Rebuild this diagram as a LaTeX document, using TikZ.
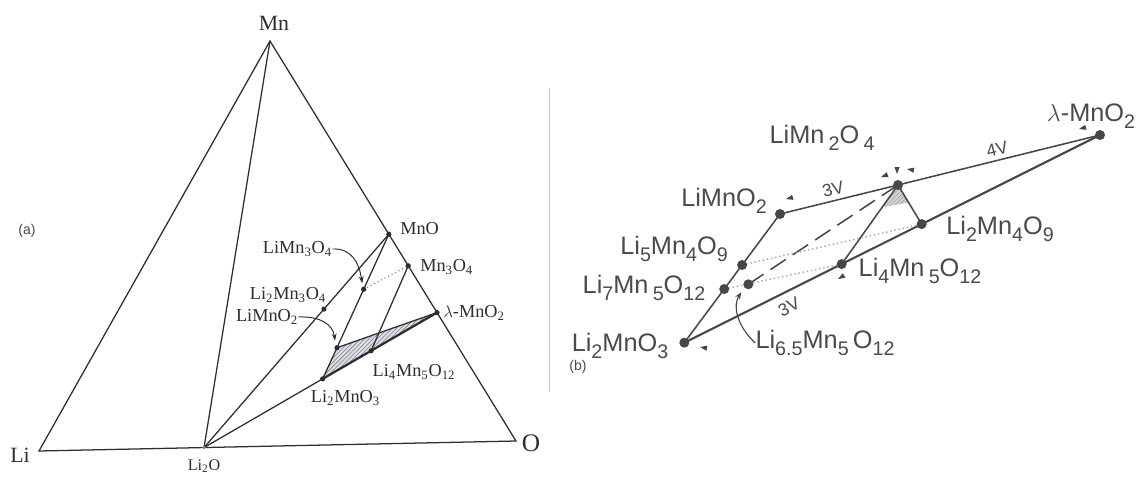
\documentclass[tikz,border=0pt]{standalone}
\usepackage{fontspec}
\setmainfont{Liberation Serif}
\setsansfont{Liberation Sans}
\usetikzlibrary{calc,patterns,arrows.meta}
\definecolor{lineA}{HTML}{2E2E2E}
\definecolor{lineB}{HTML}{474747}
\definecolor{txtB}{HTML}{4A4A4A}
\definecolor{hatchbg}{HTML}{DCDFEA}
\newcommand{\lo}[1]{\raisebox{-0.3em}{\fontsize{14}{14}\selectfont #1}}
\newcommand{\tsb}[1]{\textsubscript{#1}}
\begin{document}
\begin{tikzpicture}[x=0.025cm,y=-0.025cm,
  dotA/.style={circle,fill=lineA,inner sep=0pt,minimum size=0.13cm},
  dotB/.style={circle,fill=lineB,inner sep=0pt,minimum size=0.25cm},
  labA/.style={font=\fontsize{13}{13}\selectfont,text=lineA,inner sep=0pt},
  labV/.style={font=\fontsize{15.5}{15.5}\selectfont,text=lineA,inner sep=0pt},
  labB/.style={font=\sffamily\fontsize{18}{18}\selectfont,text=txtB,inner sep=0pt},
  labS/.style={font=\sffamily\fontsize{10}{10}\selectfont,text=txtB,inner sep=0pt},
  labVolt/.style={font=\sffamily\fontsize{12.5}{12.5}\selectfont,text=txtB,inner sep=0pt},
  lA/.style={draw=lineA,line width=0.9pt},
  lB/.style={draw=lineB,line width=1.1pt},
  mk/.pic={\fill[lineB] (0,0) -- (7,-2.6) -- (7,2.6) -- cycle;}
]
\useasboundingbox (0,0) rectangle (1136,480);

% ---------------- panel (a) ----------------
\coordinate (Mn) at (270,41);
\coordinate (Li) at (39,451);
\coordinate (O) at (516,441);
\coordinate (Li2Opt) at ($(Li)!0.346!(O)$);
\coordinate (MnOpt) at ($(Mn)!0.483!(O)$);
\coordinate (Mn3O4pt) at ($(Mn)!0.562!(O)$);
\coordinate (lampt) at ($(Mn)!0.679!(O)$);
\coordinate (Li2MnO3pt) at ($(Li2Opt)!0.509!(lampt)$);
\coordinate (Li4pt) at ($(Li2Opt)!0.717!(lampt)$);
\coordinate (LiMnO2pt) at (337,347.7);
\coordinate (LiMn3O4pt) at ($(MnOpt)!0.485!(LiMnO2pt)$);
\coordinate (Li2Mn3O4pt) at ($(Li2Opt)!0.649!(MnOpt)$);

% hatched region
\fill[hatchbg] (Li2MnO3pt) -- (LiMnO2pt) -- (lampt) -- cycle;
\fill[pattern=north east lines,pattern color=gray] (Li2MnO3pt) -- (LiMnO2pt) -- (lampt) -- cycle;

\draw[lA] (Li) -- (Mn) -- (O) -- cycle;
\draw[lA] (Li2Opt) -- (Mn);
\draw[lA] (Li2Opt) -- (MnOpt);
\draw[lA] (Li2Opt) -- (Li2MnO3pt);
\draw[draw=lineA,line width=1.6pt] (Li2MnO3pt) -- (lampt);
\draw[lA] (MnOpt) -- (LiMnO2pt) -- (Li2MnO3pt);
\draw[lA] (LiMnO2pt) -- (lampt);
\draw[lA] (Mn3O4pt) -- (Li4pt);
\draw[gray,line width=0.8pt,dotted] (LiMn3O4pt) -- (Mn3O4pt);

\node[dotA,minimum size=0.09cm,fill=gray] (nLi2O) at (Li2Opt) {};
\node[dotA] (nMnO) at (MnOpt) {};
\node[dotA] (nMn3O4) at (Mn3O4pt) {};
\node[dotA] (nlam) at (lampt) {};
\node[dotA] (nLi2MnO3) at (Li2MnO3pt) {};
\node[dotA] (nLi4) at (Li4pt) {};
\node[dotA] (nLiMnO2) at (LiMnO2pt) {};
\node[dotA] (nLiMn3O4) at (LiMn3O4pt) {};
\node[dotA] (nLi2Mn3O4) at (Li2Mn3O4pt) {};

\node[labV] (tMn) at (274,23) {Mn};
\node[labV] (tLi) at (20,455) {Li};
\node[labV,font=\fontsize{18}{18}\selectfont] (tO) at (531,443) {O};
\node[labA,font=\fontsize{11.5}{11.5}\selectfont] (tLi2O) at (204,466) {Li\tsb{2}O};
\node[labA,anchor=west] (tMnO) at (400,229) {MnO};
\node[labA,anchor=west] (tMn3O4) at (420,267) {Mn\tsb{3}O\tsb{4}};
\node[labA,anchor=west] (tlam) at (443,313) {$\lambda$-MnO\tsb{2}};
\node[labA] (tLiMn3O4) at (297.5,249) {LiMn\tsb{3}O\tsb{4}};
\node[labA] (tLi2Mn3O4) at (288,295) {Li\tsb{2}Mn\tsb{3}O\tsb{4}};
\node[labA] (tLiMnO2) at (267,317) {LiMnO\tsb{2}};
\node[labA] (tLi4) at (414,372) {Li\tsb{4}Mn\tsb{5}O\tsb{12}};
\node[labA] (tLi2MnO3) at (345.5,398) {Li\tsb{2}MnO\tsb{3}};
\node[labS] (ta) at (27,231) {(a)};

\draw[draw=lineA,line width=0.7pt,-{Stealth[length=5pt,width=3.5pt]}]
  (tLiMn3O4.east) .. controls (351,248) and (359,262) .. ($(nLiMn3O4)+(-1.5,-6)$);
\draw[draw=lineA,line width=0.7pt,-{Stealth[length=5pt,width=3.5pt]}]
  (tLiMnO2.east) .. controls (321,316) and (333,325) .. ($(nLiMnO2)+(-2,-7)$);

% divider
\draw[gray!45,line width=0.6pt] (549,88) -- (549,392);

% ---------------- panel (b) ----------------
\coordinate (Apt) at (780,214);
\coordinate (Bpt) at (898,185);
\coordinate (Cpt) at (1100,135);
\coordinate (Fpt) at (684.3,342.7);
\coordinate (Dpt) at ($(Fpt)!0.571!(Cpt)$);
\coordinate (Ept) at ($(Fpt)!0.3786!(Cpt)$);
\coordinate (Gpt) at ($(Apt)!0.396!(Fpt)$);
\coordinate (Hpt) at ($(Apt)!0.583!(Fpt)$);
\coordinate (Ipt) at (748.3,284.3);

\fill[gray!35] (Bpt) -- ($(Bpt)!0.28!(Ept)$) -- ($(Bpt)!0.45!(Dpt)$) -- cycle;
\fill[pattern=north east lines,pattern color=gray!70] (Bpt) -- ($(Bpt)!0.28!(Ept)$) -- ($(Bpt)!0.45!(Dpt)$) -- cycle;

\draw[lB] (Apt) -- (Bpt) -- (Cpt);
\draw[draw=lineB,line width=1.5pt] (Fpt) -- (Cpt);
\draw[lB] (Bpt) -- (Dpt);
\draw[lB] (Bpt) -- (Ept);
\draw[lB] (Apt) -- (Fpt);
\draw[draw=lineB,line width=1.1pt,dash pattern=on 13pt off 6pt] (Ipt) -- (Bpt);
\draw[gray!70,line width=1pt,dotted] (Gpt) -- (Dpt);
\draw[gray!70,line width=1pt,dotted] (Hpt) -- (Ept);

\node[dotB] (nA) at (Apt) {};
\node[dotB] (nB) at (Bpt) {};
\node[dotB] (nC) at (Cpt) {};
\node[dotB] (nD) at (Dpt) {};
\node[dotB] (nE) at (Ept) {};
\node[dotB] (nF) at (Fpt) {};
\node[dotB] (nG) at (Gpt) {};
\node[dotB] (nH) at (Hpt) {};
\node[dotB] (nI) at (Ipt) {};

\node[labB] (tB) at (822,138) {LiMn\,\lo{2}O\,\lo{4}};
\node[labB] (tC) at (1091,116) {$\lambda$-MnO\lo{2}};
\node[labB] (tA) at (724,201) {LiMnO\lo{2}};
\node[labB] (tG) at (674,249) {Li\lo{5}Mn\lo{4}O\lo{9}};
\node[labB] (tH) at (644,288) {Li\lo{7}Mn\,\lo{5}O\lo{12}};
\node[labB] (tF) at (620,346) {Li\lo{2}MnO\lo{3}};
\node[labB] (tD) at (1000,229) {Li\lo{2}Mn\lo{4}O\lo{9}};
\node[labB] (tE) at (920,271) {Li\lo{4}Mn\,\lo{5}O\lo{12}};
\node[labB] (tI) at (825,343) {Li\lo{6.5}Mn\lo{5}\,O\lo{12}};
\node[labS] (tb) at (578,367) {(b)};
\node[labVolt,rotate=14] (v1) at (833,189) {3V};
\node[labVolt,rotate=14] (v2) at (997,149) {4V};
\node[labVolt,rotate=27] (v3) at (789,307) {3V};

\draw[draw=lineB,line width=0.8pt,-{Stealth[length=5pt,width=4pt]}]
  (tI.west) .. controls (736,325) and (733,305) .. ($(nI)+(-7,8)$);

% direction markers
\pic[rotate=14] at (786,199) {mk};
\pic[rotate=14] at (1079,129) {mk};
\pic[rotate=20] at (881,177) {mk};
\pic[rotate=90] at (897,174) {mk};
\pic[rotate=-10] at (907,169) {mk};
\pic[rotate=30] at (838,279) {mk};
\pic[rotate=-10] at (700,347) {mk};
\end{tikzpicture}
\end{document}
